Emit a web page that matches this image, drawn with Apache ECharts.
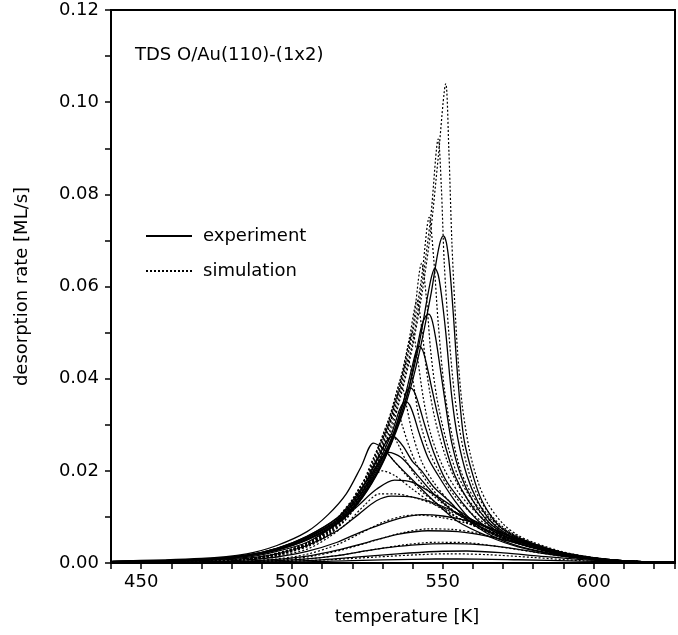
<!DOCTYPE html>
<html>
<head>
<meta charset="utf-8">
<title>TDS O/Au(110)-(1x2)</title>
<script src="https://cdn.jsdelivr.net/npm/echarts/dist/echarts.min.js"></script>
<style>
    html, body { margin: 0; padding: 0; background: #fff; }
    #chart { width: 678px; height: 635px; }
</style>
</head>
<body>
<div id="chart"></div>
<script>
// 坐标轴范围与刻度
var xMin = 440, xMax = 627, xStep = 10;
var yMin = 0, yMax = 0.12, yStep = 0.02;
var xLabels = [450, 500, 550, 600];

// 实验曲线 (实线), [温度 K, 脱附速率 ML/s]
var exp1 = [[440,0.0003],[470,0.0007],[485,0.0015],[495,0.0028],[505,0.005],[515,0.0085],[522,0.013],[528,0.019],[533,0.026],[538,0.035],[542,0.045],[546,0.058],[548,0.066],[549.2,0.0698],[550.2,0.071],[551.2,0.0695],[552.3,0.064],[553.5,0.054],[555,0.04],[557,0.027],[560,0.019],[563,0.0135],[568,0.0085],[573,0.006],[580,0.0042],[590,0.0022],[600,0.0011],[612,0.0004],[627,0.0002]];
var exp2 = [[440,0.0003],[470,0.0007],[485,0.0015],[495,0.0028],[505,0.005],[515,0.0086],[522,0.0131],[528,0.0192],[533,0.0262],[538,0.036],[542,0.047],[545,0.058],[546.3,0.0622],[547.4,0.064],[548.5,0.0625],[549.6,0.058],[551,0.05],[553,0.036],[555,0.027],[558,0.019],[561.5,0.0135],[566,0.009],[572,0.006],[578,0.0045],[590,0.002],[600,0.001],[612,0.0004],[627,0.0002]];
var exp3 = [[440,0.0003],[470,0.0007],[485,0.0015],[495,0.0029],[505,0.0052],[515,0.0088],[522,0.0133],[528,0.0195],[533,0.0265],[538,0.036],[541,0.045],[543,0.0515],[544.3,0.0535],[545.3,0.054],[546.4,0.0528],[547.6,0.049],[549,0.043],[551,0.034],[553,0.026],[556,0.019],[560,0.0135],[565,0.009],[570,0.0065],[576,0.0048],[588,0.0022],[600,0.001],[612,0.0004],[627,0.0002]];
var exp4 = [[440,0.0003],[470,0.0007],[485,0.0016],[495,0.003],[505,0.0054],[515,0.009],[522,0.0136],[528,0.02],[533,0.027],[537,0.035],[540,0.043],[541.2,0.046],[542.2,0.047],[543.3,0.0462],[544.5,0.0435],[546,0.039],[548,0.033],[551,0.025],[554,0.019],[558.5,0.0135],[564,0.009],[570,0.006],[576,0.0045],[588,0.002],[600,0.0009],[612,0.0004],[627,0.0002]];
var exp5 = [[440,0.0003],[470,0.0007],[485,0.0016],[495,0.003],[505,0.0055],[515,0.0092],[522,0.014],[528,0.0205],[533,0.027],[536.5,0.034],[538,0.0372],[539.2,0.038],[540.5,0.0372],[542,0.0345],[544,0.03],[547,0.024],[551,0.018],[556,0.0135],[562,0.009],[570,0.0058],[578,0.004],[590,0.0018],[600,0.0009],[612,0.0004],[627,0.0002]];
var exp6 = [[440,0.0003],[470,0.0008],[485,0.0017],[495,0.0031],[505,0.0056],[515,0.0094],[522,0.0143],[528,0.021],[533,0.028],[535.5,0.033],[536.7,0.0346],[537.8,0.035],[539,0.0343],[540.5,0.0318],[542,0.0285],[545,0.023],[548,0.0195],[554,0.0135],[560,0.009],[568,0.0058],[578,0.0036],[590,0.0017],[600,0.0008],[612,0.0003],[627,0.0002]];
var exp7 = [[440,0.0003],[470,0.0008],[485,0.0017],[495,0.0032],[505,0.0058],[515,0.0097],[522,0.0148],[528,0.022],[531,0.026],[532.3,0.0272],[533.5,0.0275],[535,0.0268],[537,0.0252],[540,0.022],[543,0.02],[547,0.0165],[552,0.0135],[558,0.0095],[566,0.006],[576,0.0035],[590,0.0016],[600,0.0008],[612,0.0003],[627,0.0002]];
var exp8 = [[440,0.0004],[470,0.001],[485,0.002],[495,0.0038],[505,0.0068],[512,0.0105],[518,0.015],[523,0.021],[527,0.026],[530,0.025],[534,0.022],[540,0.018],[547,0.0135],[555,0.009],[565,0.0058],[575,0.0035],[590,0.0015],[600,0.0008],[612,0.0003],[627,0.0002]];
var exp9 = [[440,0.0003],[470,0.0008],[485,0.0017],[495,0.0032],[505,0.0058],[515,0.0098],[520,0.0135],[525,0.018],[529,0.022],[532,0.024],[536,0.023],[541,0.0195],[547,0.015],[554,0.011],[562,0.008],[572,0.005],[585,0.0025],[600,0.001],[612,0.0004],[627,0.0002]];
var exp10 = [[440,0.0002],[470,0.0006],[485,0.0012],[495,0.0025],[505,0.0045],[515,0.0085],[522,0.0125],[528,0.016],[534,0.018],[540,0.0175],[548,0.0145],[555,0.0115],[562,0.0085],[572,0.0055],[585,0.0028],[600,0.001],[612,0.0004],[627,0.0002]];
var exp11 = [[440,0.0002],[470,0.0005],[485,0.001],[495,0.002],[505,0.0038],[515,0.007],[522,0.0105],[528,0.0135],[533,0.0145],[540,0.0143],[548,0.0128],[556,0.0105],[565,0.0078],[575,0.005],[588,0.0025],[600,0.0011],[612,0.0004],[627,0.0002]];
var exp12 = [[440,0.0001],[470,0.0003],[485,0.0007],[495,0.0013],[505,0.0025],[515,0.0045],[522,0.0065],[530,0.0085],[537,0.0099],[543,0.0105],[550,0.0102],[558,0.0092],[566,0.0075],[575,0.0052],[585,0.003],[598,0.0013],[612,0.0004],[627,0.0002]];
var exp13 = [[440,0.0001],[470,0.0002],[485,0.0004],[495,0.0008],[505,0.0015],[515,0.0028],[525,0.0045],[535,0.0062],[545,0.007],[555,0.0068],[565,0.0058],[575,0.0042],[585,0.0026],[598,0.0012],[612,0.0004],[627,0.0001]];
var exp14 = [[440,0.0001],[480,0.0002],[495,0.0005],[505,0.0009],[515,0.0016],[525,0.0027],[535,0.0036],[545,0.0041],[552,0.0042],[562,0.004],[572,0.0033],[582,0.0022],[595,0.0011],[610,0.0004],[627,0.0001]];
var exp15 = [[440,0.0001],[490,0.0002],[505,0.0005],[520,0.0012],[535,0.002],[548,0.0025],[558,0.0026],[570,0.0022],[582,0.0015],[595,0.0008],[612,0.0003],[627,0.0001]];
var exp16 = [[440,0.0001],[500,0.0002],[520,0.0005],[540,0.0008],[555,0.0009],[575,0.0007],[595,0.0004],[615,0.0002],[627,0.0001]];

// 模拟曲线 (虚线)
var sim1 = [[440,0.0001],[470,0.0003],[485,0.0008],[495,0.0017],[505,0.0035],[512,0.006],[518,0.0095],[523,0.014],[527,0.019],[532,0.027],[536,0.036],[540,0.047],[543,0.058],[546,0.072],[548.5,0.088],[551,0.104],[552,0.09],[553,0.07],[554,0.056],[555,0.045],[556.5,0.034],[559,0.024],[562,0.017],[565,0.0128],[570,0.0085],[575,0.006],[580,0.0045],[590,0.0024],[600,0.0012],[612,0.0004],[627,0.0001]];
var sim2 = [[440,0.0001],[470,0.0003],[485,0.0008],[495,0.0017],[505,0.0036],[512,0.0061],[518,0.0097],[523,0.0143],[527,0.0195],[532,0.028],[536,0.037],[540,0.048],[543,0.06],[546,0.075],[548.5,0.092],[549.5,0.082],[550.5,0.065],[552,0.05],[554,0.036],[557,0.024],[560,0.017],[564,0.012],[570,0.0078],[578,0.0048],[590,0.0022],[600,0.0011],[612,0.0004],[627,0.0001]];
var sim3 = [[440,0.0001],[470,0.0003],[485,0.0008],[495,0.0018],[505,0.0037],[512,0.0063],[518,0.01],[523,0.0148],[527,0.02],[532,0.029],[536,0.038],[540,0.05],[543,0.062],[545.5,0.075],[547,0.066],[548.5,0.052],[550.5,0.038],[553,0.028],[556,0.02],[560,0.0145],[565,0.0105],[570,0.0075],[578,0.0047],[590,0.0021],[600,0.001],[612,0.0004],[627,0.0001]];
var sim4 = [[440,0.0001],[470,0.0003],[485,0.0008],[495,0.0018],[505,0.0038],[512,0.0065],[518,0.0102],[523,0.015],[527,0.0205],[532,0.0295],[536,0.039],[540,0.051],[543,0.065],[544.5,0.058],[546,0.046],[548,0.036],[551,0.027],[555,0.019],[560,0.0135],[566,0.0095],[572,0.0066],[580,0.0042],[590,0.0021],[600,0.001],[612,0.0004],[627,0.0001]];
var sim5 = [[440,0.0001],[470,0.0003],[485,0.0008],[495,0.0019],[505,0.0039],[512,0.0067],[518,0.0105],[523,0.0153],[527,0.021],[532,0.03],[536,0.039],[539,0.049],[541.5,0.057],[543,0.051],[545,0.04],[547.5,0.031],[551,0.023],[555,0.017],[560,0.0125],[567,0.0085],[575,0.0055],[585,0.003],[600,0.001],[612,0.0004],[627,0.0001]];
var sim6 = [[440,0.0001],[470,0.0003],[485,0.0009],[495,0.002],[505,0.004],[512,0.0068],[518,0.0107],[523,0.0157],[527,0.0215],[532,0.0305],[536,0.04],[538.5,0.047],[540,0.05],[541.5,0.045],[543.5,0.036],[546,0.028],[550,0.021],[555,0.0155],[561,0.011],[568,0.0075],[577,0.0048],[588,0.0024],[600,0.001],[612,0.0004],[627,0.0001]];
var sim7 = [[440,0.0001],[470,0.0003],[485,0.0009],[495,0.002],[505,0.0041],[512,0.007],[518,0.011],[523,0.016],[527,0.022],[532,0.031],[536,0.04],[538.5,0.044],[540,0.04],[542,0.032],[545,0.025],[549,0.0195],[554,0.0145],[560,0.0105],[568,0.007],[578,0.0043],[590,0.002],[600,0.001],[612,0.0004],[627,0.0001]];
var sim8 = [[440,0.0001],[470,0.0003],[485,0.0009],[495,0.0021],[505,0.0042],[512,0.0072],[518,0.0112],[523,0.0163],[527,0.0225],[532,0.031],[536.5,0.038],[538,0.034],[540,0.028],[543,0.022],[547,0.0175],[552,0.0135],[558,0.0098],[566,0.0068],[576,0.0042],[590,0.0019],[600,0.0009],[612,0.0004],[627,0.0001]];
var sim9 = [[440,0.0001],[470,0.0003],[485,0.0009],[495,0.0021],[505,0.0043],[512,0.0073],[518,0.0115],[523,0.0167],[527,0.0228],[530,0.027],[535,0.033],[536.5,0.03],[539,0.025],[542,0.0205],[546,0.0165],[551,0.0128],[558,0.0092],[566,0.0064],[576,0.004],[590,0.0018],[600,0.0009],[612,0.0004],[627,0.0001]];
var sim10 = [[440,0.0001],[470,0.0003],[485,0.0009],[495,0.0021],[505,0.0043],[512,0.0074],[518,0.0117],[523,0.017],[527,0.021],[530,0.025],[533,0.028],[535,0.026],[538,0.022],[542,0.018],[547,0.0145],[553,0.0115],[560,0.0087],[568,0.0062],[578,0.0038],[590,0.0018],[600,0.0009],[612,0.0004],[627,0.0001]];
var sim11 = [[440,0.0001],[470,0.0003],[485,0.0009],[495,0.002],[505,0.0042],[512,0.0072],[516,0.0105],[520,0.0138],[525,0.019],[531,0.024],[534,0.022],[538,0.019],[543,0.0155],[549,0.0125],[556,0.0095],[564,0.007],[574,0.0045],[588,0.002],[600,0.0009],[612,0.0004],[627,0.0001]];
var sim12 = [[440,0.0001],[470,0.0003],[485,0.0008],[495,0.0019],[505,0.004],[512,0.0068],[518,0.0112],[524,0.0162],[530,0.02],[534,0.019],[540,0.016],[547,0.0128],[555,0.0098],[563,0.0073],[573,0.0048],[587,0.0022],[600,0.0009],[612,0.0004],[627,0.0001]];
var sim13 = [[440,0.0001],[470,0.0003],[485,0.0007],[495,0.0015],[505,0.003],[512,0.0055],[518,0.0085],[524,0.0125],[529,0.015],[534,0.015],[540,0.0143],[548,0.0125],[556,0.0102],[565,0.0077],[575,0.0052],[588,0.0025],[600,0.001],[612,0.0004],[627,0.0001]];
var sim14 = [[440,0.0001],[480,0.0003],[495,0.0009],[505,0.0019],[515,0.004],[522,0.0062],[530,0.0088],[537,0.0102],[542,0.0104],[550,0.0098],[558,0.0086],[566,0.0068],[576,0.0046],[588,0.0024],[600,0.001],[612,0.0004],[627,0.0001]];
var sim15 = [[440,0.0001],[485,0.0003],[497,0.0007],[507,0.0015],[517,0.0029],[527,0.0048],[537,0.0066],[545,0.0074],[553,0.0073],[562,0.0064],[572,0.0048],[584,0.0028],[597,0.0012],[612,0.0004],[627,0.0001]];
var sim16 = [[440,0.0001],[490,0.0003],[502,0.0007],[515,0.0016],[527,0.0029],[538,0.004],[548,0.0045],[558,0.0044],[568,0.0036],[580,0.0024],[594,0.0011],[610,0.0004],[627,0.0001]];
var sim17 = [[440,0.0001],[495,0.0003],[512,0.0007],[528,0.0013],[542,0.0018],[552,0.002],[565,0.0018],[580,0.0012],[596,0.0005],[612,0.0002],[627,0.0001]];

var experiment = [exp1, exp2, exp3, exp4, exp5, exp6, exp7, exp8, exp9, exp10, exp11, exp12, exp13, exp14, exp15, exp16];
var simulation = [sim1, sim2, sim3, sim4, sim5, sim6, sim7, sim8, sim9, sim10, sim11, sim12, sim13, sim14, sim15, sim16, sim17];

var font = "DejaVu Sans";
var series = [];
for (var d of simulation) {
    series.push({
        name: "simulation",
        type: "line",
        data: d,
        symbol: "none",
        smooth: 0.3,
        color: "#000",
        lineStyle: { color: "#000", width: 1.2, type: [2, 2] },
        z: 2
    });
}
for (var d of experiment) {
    series.push({
        name: "experiment",
        type: "line",
        data: d,
        symbol: "none",
        smooth: 0.3,
        color: "#000",
        lineStyle: { color: "#000", width: 1.3 },
        z: 3
    });
}

var myChart = echarts.init(document.getElementById("chart"));
var option = {
    animation: false,
    backgroundColor: "#fff",
    title: {
        text: "TDS O/Au(110)-(1x2)",
        left: 135,
        top: 46,
        padding: 0,
        textStyle: { fontFamily: font, fontSize: 18, fontWeight: "normal", color: "#000" }
    },
    legend: {
        data: ["experiment", "simulation"],
        orient: "vertical",
        left: 145,
        top: 227,
        padding: 0,
        itemWidth: 46,
        itemHeight: 14,
        itemGap: 17,
        // 只显示线, 不显示圆点
        itemStyle: { opacity: 0 },
        textStyle: { fontFamily: font, fontSize: 18, color: "#000", padding: [0, 0, 0, 6] }
    },
    grid: {
        left: 111,
        top: 10,
        right: -4,
        bottom: 72,
        show: true,
        borderColor: "#000",
        borderWidth: 2
    },
    xAxis: {
        type: "value",
        min: xMin,
        max: xMax,
        interval: xStep,
        name: "temperature [K]",
        nameLocation: "middle",
        nameGap: 45,
        nameTextStyle: { fontFamily: font, fontSize: 18, color: "#000", padding: [0, 0, 0, 28] },
        axisLine: { lineStyle: { color: "#000", width: 2 } },
        axisTick: { length: 6, lineStyle: { color: "#000", width: 1.5 } },
        axisLabel: {
            margin: 10,
            fontFamily: font,
            fontSize: 18,
            color: "#000",
            formatter: function (v) {
                return xLabels.indexOf(v) >= 0 ? String(v) : "";
            }
        },
        splitLine: { show: false }
    },
    yAxis: {
        type: "value",
        min: yMin,
        max: yMax,
        interval: yStep,
        name: "desorption rate [ML/s]",
        nameLocation: "middle",
        nameGap: 80,
        nameTextStyle: { fontFamily: font, fontSize: 18, color: "#000" },
        axisLine: { show: true, lineStyle: { color: "#000", width: 2 } },
        axisTick: { show: true, length: 6, lineStyle: { color: "#000", width: 1.5 } },
        minorTick: { show: true, splitNumber: 2, length: 6, lineStyle: { color: "#000", width: 1.5 } },
        axisLabel: {
            margin: 12,
            fontFamily: font,
            fontSize: 18,
            color: "#000",
            formatter: function (v) { return v.toFixed(2); }
        },
        splitLine: { show: false }
    },
    series: series
};
myChart.setOption(option);
</script>
</body>
</html>
